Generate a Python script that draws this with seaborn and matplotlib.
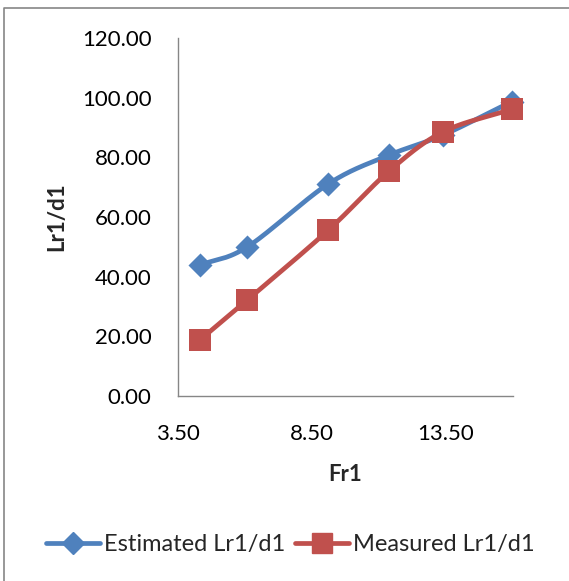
import numpy as np
import pandas as pd
import matplotlib
matplotlib.use("Agg")
import matplotlib.pyplot as plt
from matplotlib.lines import Line2D
import seaborn as sns

# Froude number and jump-length ratio data
fr1 = [4.32, 6.09, 9.11, 11.39, 13.40, 15.95]
estimated = [43.9, 50.0, 71.1, 80.8, 87.5, 98.7]
measured = [18.8, 32.2, 55.6, 75.5, 88.6, 96.1]
series_names = ["Estimated Lr1/d1", "Measured Lr1/d1"]
y_ticks = [0, 20, 40, 60, 80, 100, 120]
x_ticks = [3.5, 8.5, 13.5]

BLUE = "#4F81BD"
RED = "#C0504D"


def smooth(x, y, n=30):
    """Catmull-Rom curve through the points (spreadsheet-style smoothed line)."""
    x = np.asarray(x, float)
    y = np.asarray(y, float)
    px = np.concatenate([[2 * x[0] - x[1]], x, [2 * x[-1] - x[-2]]])
    py = np.concatenate([[2 * y[0] - y[1]], y, [2 * y[-1] - y[-2]]])
    xs, ys = [], []
    for i in range(1, len(px) - 2):
        t = np.linspace(0, 1, n, endpoint=False)
        for p, out in ((px, xs), (py, ys)):
            p0, p1, p2, p3 = p[i - 1], p[i], p[i + 1], p[i + 2]
            out.extend(0.5 * ((2 * p1) + (-p0 + p2) * t
                              + (2 * p0 - 5 * p1 + 4 * p2 - p3) * t ** 2
                              + (-p0 + 3 * p1 - 3 * p2 + p3) * t ** 3))
    xs.append(x[-1])
    ys.append(y[-1])
    return np.array(xs), np.array(ys)


sns.set_theme(style="white")
plt.rcParams["font.family"] = ["Lato", "DejaVu Sans"]

TICK_FS = 16
LEGEND_FS = 17

fig = plt.figure(figsize=(5.69, 5.81), dpi=100)
ax = fig.add_axes([0.3128, 0.3184, 0.5888, 0.6162])

bx, by = smooth(fr1, estimated)
rx, ry = smooth(fr1, measured)
curves = pd.DataFrame({
    "Fr1": np.concatenate([bx, rx]),
    "Lr1/d1": np.concatenate([by, ry]),
    "series": [series_names[0]] * len(bx) + [series_names[1]] * len(rx),
})
points = pd.DataFrame({
    "Fr1": fr1 + fr1,
    "Lr1/d1": estimated + measured,
    "series": [series_names[0]] * len(fr1) + [series_names[1]] * len(fr1),
})
palette = {series_names[0]: BLUE, series_names[1]: RED}

sns.lineplot(data=curves, x="Fr1", y="Lr1/d1", hue="series", palette=palette,
             linewidth=3.4, sort=False, estimator=None, legend=False, ax=ax,
             solid_capstyle="round", clip_on=False)
sns.scatterplot(data=points[points.series == series_names[0]], x="Fr1", y="Lr1/d1",
                color=BLUE, marker="D", s=150, linewidth=0, legend=False, ax=ax,
                zorder=3, clip_on=False)
sns.scatterplot(data=points[points.series == series_names[1]], x="Fr1", y="Lr1/d1",
                color=RED, marker="s", s=230, linewidth=0, legend=False, ax=ax,
                zorder=4, clip_on=False)

ax.set_xlim(3.5, 16.0)
ax.set_ylim(0, 120)
ax.set_xticks(x_ticks)
ax.set_xticklabels([f"{v:.2f}" for v in x_ticks])
ax.set_yticks(y_ticks)
ax.set_yticklabels([f"{v:.2f}" for v in y_ticks])
ax.tick_params(axis="both", length=0, labelsize=TICK_FS, colors="black")
ax.tick_params(axis="x", pad=20)
ax.tick_params(axis="y", pad=19)
ax.set_xlabel("Fr1", fontsize=TICK_FS, fontweight="bold")
ax.set_ylabel("Lr1/d1", fontsize=TICK_FS, fontweight="bold")
ax.xaxis.set_label_coords(0.5, -0.19)
ax.yaxis.set_label_coords(-0.33, 0.5)
ax.grid(False)
for side in ("top", "right"):
    ax.spines[side].set_visible(False)
for side in ("left", "bottom"):
    ax.spines[side].set_color("#868686")
    ax.spines[side].set_linewidth(1.0)

handles = [
    Line2D([], [], color=BLUE, lw=3.4, marker="D", markersize=11),
    Line2D([], [], color=RED, lw=3.4, marker="s", markersize=14),
]
fig.legend(handles, series_names, loc="center", bbox_to_anchor=(0.51, 1 - 545 / 581),
           ncol=2, frameon=False, fontsize=LEGEND_FS, handlelength=2.3,
           handletextpad=0.15, columnspacing=0.4, borderaxespad=0)

# chart-area frame (top and left edges)
fig.add_artist(Line2D([4 / 569, 4 / 569, 1.0], [0.0, 1 - 8 / 581, 1 - 8 / 581],
                      transform=fig.transFigure, color="#868686", lw=1.2))

fig.savefig("out.png", dpi=100)
